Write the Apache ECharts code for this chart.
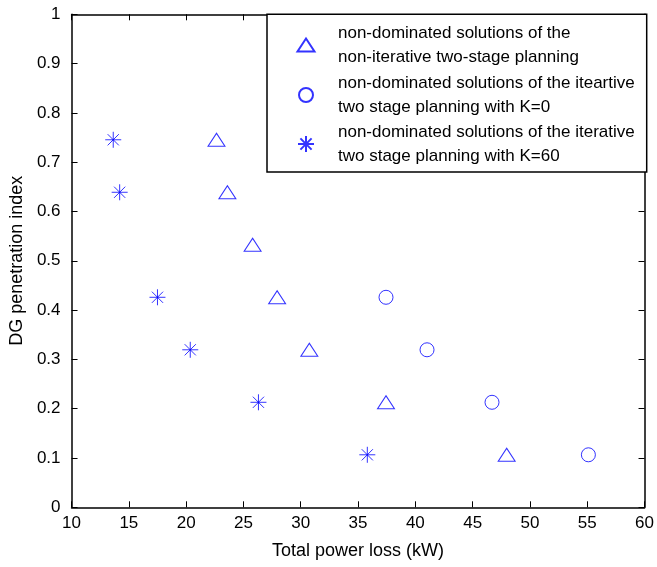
<!DOCTYPE html>
<html><head><meta charset="utf-8">
<script src="https://cdn.jsdelivr.net/npm/echarts@6/dist/echarts.min.js"></script>
<style>html,body{margin:0;padding:0;background:#fff}#c{width:657px;height:567px}</style>
</head><body><div id="c"></div>
<script>
const seriesNames = [
  'non-dominated solutions of the\nnon-iterative two-stage planning',
  'non-dominated solutions of the iteartive\ntwo stage planning with K=0',
  'non-dominated solutions of the iterative\ntwo stage planning with K=60'
];
const nonIterX = [22.65, 23.6, 25.8, 27.94, 30.75, 37.44, 47.97];
const nonIterY = [0.7455, 0.639, 0.5325, 0.426, 0.3195, 0.213, 0.1065];
const k0X = [37.44, 41.02, 46.69, 55.1];
const k0Y = [0.426, 0.3195, 0.213, 0.1065];
const k60X = [13.64, 14.2, 17.5, 20.36, 26.31, 35.81];
const k60Y = [0.7455, 0.639, 0.426, 0.3195, 0.213, 0.1065];
const xTitle = 'Total power loss (kW)';
const yTitle = 'DG penetration index';

const zip = (a, b) => a.map((v, i) => [v, b[i]]);
const FONT = 'Liberation Sans, Arial, Helvetica, sans-serif';
const BLUE = '#0000ff';
const starPath = 'path://M0,-1L0,1M-1,0L1,0M-0.7,-0.7L0.7,0.7M-0.7,0.7L0.7,-0.7';

const axisLine = { show: true, onZero: false, lineStyle: { color: '#000', width: 1.5 } };
const axisTick = { show: true, inside: true, length: 6, lineStyle: { color: '#000', width: 1 } };
const labelStyle = { color: '#000', fontSize: 17, fontFamily: FONT };

const chart = echarts.init(document.getElementById('c'), null, { renderer: 'canvas' });
const mkLegend = (name, left, top, w, h, pad) => ({
  data: [name], orient: 'vertical', left: left, top: top, padding: 0,
  itemWidth: w, itemHeight: h, selectedMode: false, z: 20,
  textStyle: { color: '#000', fontSize: 17, lineHeight: 24, fontFamily: FONT, padding: [0, 0, 0, pad] }
});
const itemStyle = { color: 'rgba(0,0,0,0)', borderColor: BLUE, borderWidth: 1 };

chart.setOption({
  backgroundColor: '#fff',
  animation: false,
  grid: { left: 64.3, right: 10.3, top: 14.3, bottom: 59.7, containLabel: false },
  xAxis: [
    { type: 'value', min: 10, max: 60, interval: 5, position: 'bottom',
      axisLine, axisTick, splitLine: { show: false },
      axisLabel: Object.assign({ margin: 8 }, labelStyle),
      name: xTitle, nameLocation: 'middle', nameGap: 35,
      nameTextStyle: { color: '#000', fontSize: 18, fontFamily: FONT } },
    { type: 'value', min: 10, max: 60, interval: 5, position: 'top',
      axisLine, axisTick, splitLine: { show: false }, axisLabel: { show: false } }
  ],
  yAxis: [
    { type: 'value', min: 0, max: 1, interval: 0.1, position: 'left',
      axisLine, axisTick, splitLine: { show: false },
      axisLabel: Object.assign({ margin: 11, formatter: v => (v === 0 || v === 1) ? String(v) : v.toFixed(1) }, labelStyle),
      name: yTitle, nameLocation: 'middle', nameGap: 40,
      nameTextStyle: { color: '#000', fontSize: 18, fontFamily: FONT } },
    { type: 'value', min: 0, max: 1, interval: 0.1, position: 'right',
      axisLine, axisTick, splitLine: { show: false }, axisLabel: { show: false } }
  ],
  legend: [
    mkLegend(seriesNames[0], 296.5, 21, 17, 13, 18.5),
    mkLegend(seriesNames[1], 298, 71, 14, 14, 20),
    mkLegend(seriesNames[2], 297, 120, 16, 16, 19)
  ],
  graphic: [
    { type: 'rect', z: 5, shape: { x: 267, y: 14.3, width: 379.7, height: 157.7 },
      style: { fill: '#fff', stroke: '#000', lineWidth: 1.5 } }
  ],
  series: [
    { name: seriesNames[0], type: 'scatter', symbol: 'triangle', symbolSize: [17, 13],
      itemStyle, data: zip(nonIterX, nonIterY) },
    { name: seriesNames[1], type: 'scatter', symbol: 'circle', symbolSize: 14,
      itemStyle, data: zip(k0X, k0Y) },
    { name: seriesNames[2], type: 'scatter', symbol: starPath, symbolSize: 16,
      itemStyle, data: zip(k60X, k60Y) }
  ]
});
</script>
</body></html>
